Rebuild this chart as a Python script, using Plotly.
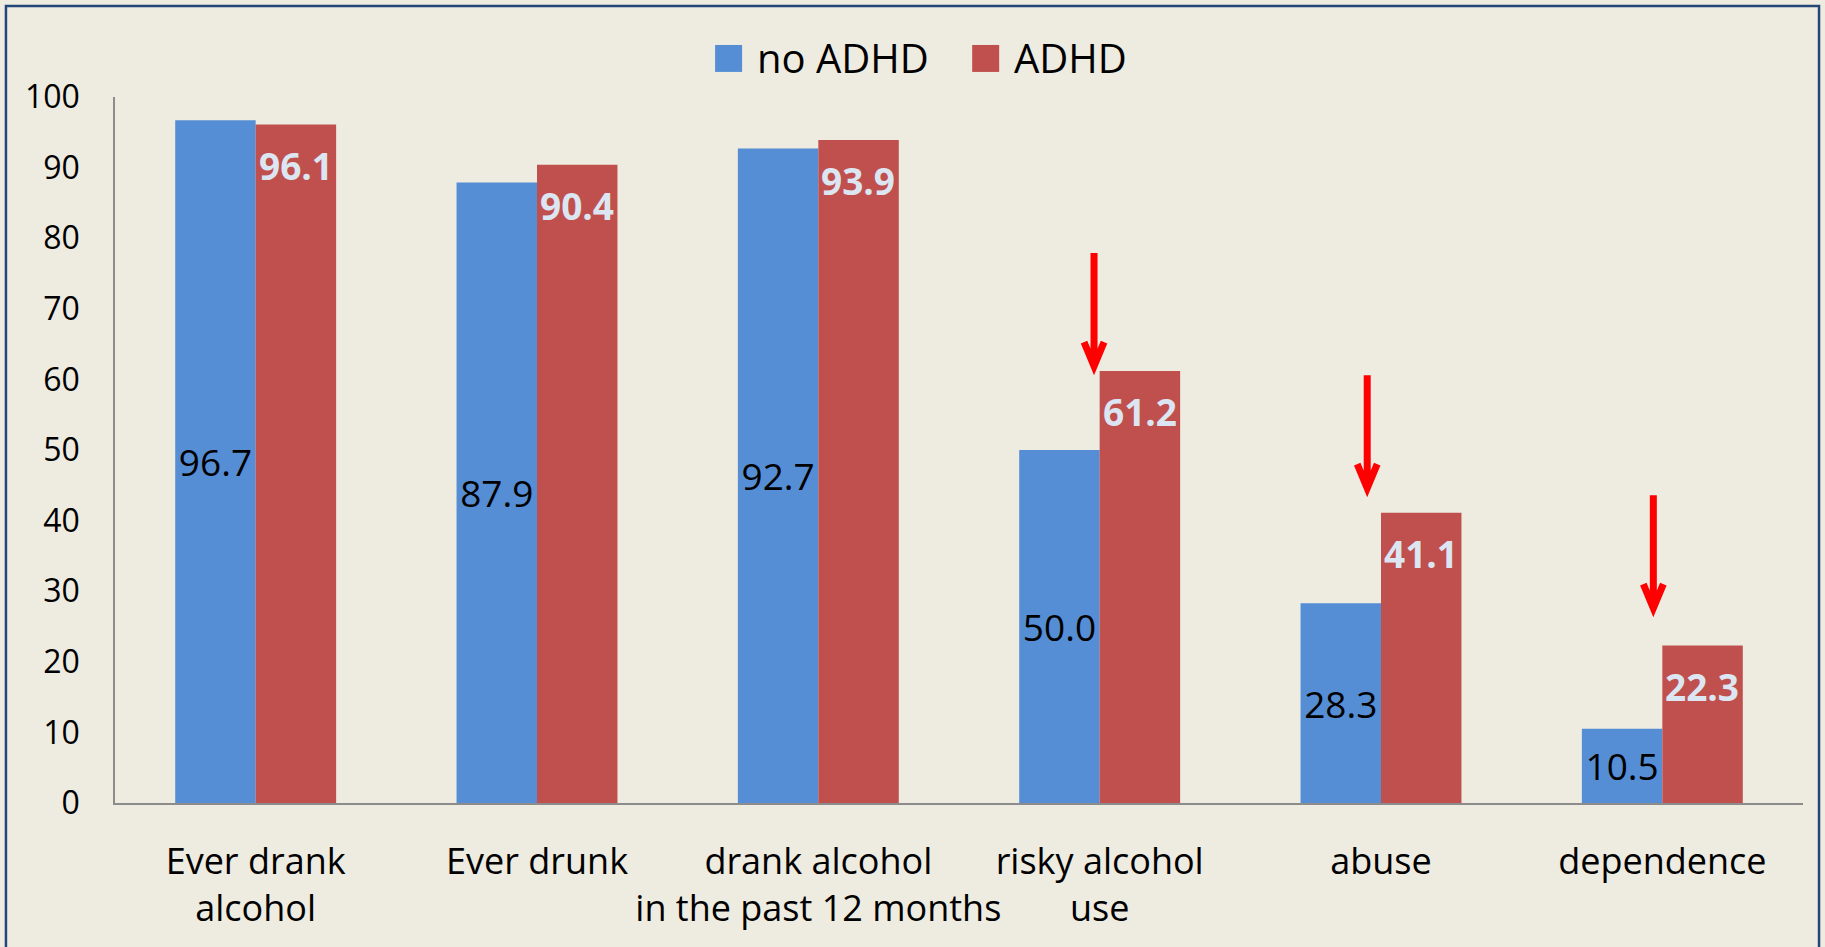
import plotly.graph_objects as go

# Alcohol use outcomes by ADHD status (percent)
categories = [
    "Ever drank<br>alcohol",
    "Ever drunk",
    "drank alcohol<br>in the past 12 months",
    "risky alcohol<br>use",
    "abuse",
    "dependence",
]
no_adhd = [96.7, 87.9, 92.7, 50.0, 28.3, 10.5]
adhd = [96.1, 90.4, 93.9, 61.2, 41.1, 22.3]
series_names = ["no ADHD", "ADHD"]
y_ticks = [0, 10, 20, 30, 40, 50, 60, 70, 80, 90, 100]

BLUE = "#558ED5"
RED = "#C0504D"
BG = "#EEEBE0"
FONT = "Open Sans"

fig = go.Figure()
fig.add_trace(go.Bar(
    x=categories, y=no_adhd, name=series_names[0],
    marker=dict(color=BLUE, line=dict(width=0)),
    texttemplate="%{y:.1f}", textposition="inside", insidetextanchor="middle",
    textangle=0, constraintext="none",
    textfont=dict(family=FONT, size=37, color="black"),
    showlegend=False,
))
fig.add_trace(go.Bar(
    x=categories, y=adhd, name=series_names[1],
    marker=dict(color=RED, line=dict(width=0)),
    textposition="none",
    showlegend=False,
))

shapes = []

# outer frame
shapes.append(dict(type="rect", xref="paper", yref="paper",
                   x0=-0.0646, x1=1.0095, y0=-0.25, y1=1.1289,
                   line=dict(color="#24477A", width=2.5), fillcolor="rgba(0,0,0,0)",
                   layer="below"))

# red arrows pointing at the ADHD bars: (category index, tip height)
arrows = [(3 - 0.02, 60.9), (4 - 0.049, 43.6), (5 - 0.032, 26.6)]
for ax_x, tip in arrows:
    shapes.append(dict(
        type="path", xref="x", yref="y",
        xsizemode="pixel", ysizemode="pixel", xanchor=ax_x, yanchor=tip,
        path="M0,120 L0,7 M-10,31 L0,7 L10,31",
        line=dict(color="#FF0000", width=7), layer="above",
    ))

# legend swatches
legend_items = [(0.3555, BLUE), (0.5078, RED)]
for lx, col in legend_items:
    shapes.append(dict(type="rect", xref="paper", yref="paper",
                       x0=lx, x1=lx + 0.016, y0=1.0355, y1=1.0737,
                       fillcolor=col, line=dict(width=0)))

annotations = []
for lx, name in zip([0.3791, 0.5314], series_names):
    annotations.append(dict(xref="paper", yref="paper", x=lx, y=1.0555,
                            xanchor="left", yanchor="middle", showarrow=False,
                            text=name, font=dict(family=FONT, size=40, color="black")))

# bold value labels near the top of the ADHD bars
for cat, val in zip(categories, adhd):
    annotations.append(dict(xref="x", yref="y", x=cat, y=val,
                            xanchor="center", yanchor="top", xshift=40, yshift=-13,
                            showarrow=False, text=f"<b>{val:.1f}</b>",
                            font=dict(family=FONT, size=37, color="#DCE6F2")))

fig.update_layout(
    width=1825, height=947,
    margin=dict(l=115, r=22, t=97, b=144),
    paper_bgcolor=BG, plot_bgcolor=BG,
    barmode="group", bargap=0.428, bargroupgap=0,
    shapes=shapes, annotations=annotations,
    font=dict(family=FONT, color="black"),
    xaxis=dict(
        showgrid=False, zeroline=False, showline=True,
        linecolor="#8C8C8C", linewidth=1.5, automargin=False,
        ticks="", tickangle=0, tickfont=dict(family=FONT, size=36, color="black"),
        ticklabelstandoff=26,
    ),
    yaxis=dict(
        range=[0, 100], tickvals=y_ticks, showgrid=False, zeroline=False,
        showline=True, linecolor="#8C8C8C", linewidth=1.5, automargin=False,
        ticks="", tickfont=dict(family=FONT, size=32, color="black"),
        ticklabelstandoff=27,
    ),
)

fig.write_html("out.html")
